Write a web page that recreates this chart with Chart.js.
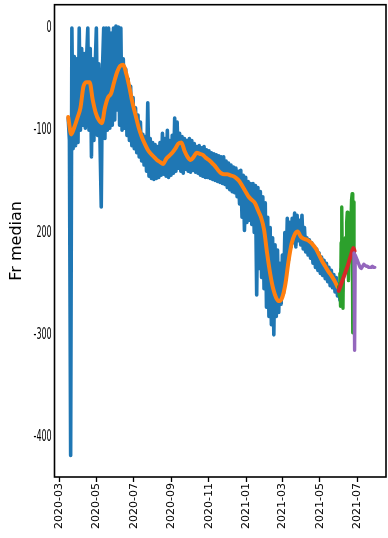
<!DOCTYPE html>
<html>
<head>
<meta charset="utf-8">
<script src="https://cdn.jsdelivr.net/npm/chart.js@4.4.1/dist/chart.umd.min.js"></script>
<style>
  html, body { margin: 0; padding: 0; background: #ffffff; }
  #c { display: block; }
</style>
</head>
<body>
<canvas id="c" width="388" height="538"></canvas>
<script>
// ---- axis ticks (day offsets counted from 2020-03-01) ----
const xTickDays = [0, 61, 122, 184, 245, 306, 365, 426, 487];
const xTickLabels = ['2020-03', '2020-05', '2020-07', '2020-09', '2020-11', '2021-01', '2021-03', '2021-05', '2021-07'];
const yTickValues = [0, -100, -200, -300, -400];
const yTickLabels = ['0', '-100', '200', '-300', '-400'];
const yAxisTitle = 'Fr median';

// ---- blue: daily raw values, sampled every 2 days from day 15 ----
const blueStartDay = 15;
const blueStepDays = 2;
const blueVals = [
  -88, -110, -418, 0, -118, -28, -115, -30, -112, 0,
  -100, -20, -95, -25, -98, -30, 0, -100, -20, -126,
  -30, -110, -40, 0, -105, -35, -112, -175, -40, 0,
  -108, 0, -100, 0, -98, -5, -95, 0, -90, 2,
  -80, 1, -95, 0, -100, -30, -98, -40, -105, -50,
  -110, -57, -115, -68, -118, -78, -122, -85, -126, -92,
  -130, -104, -134, -106, -140, -73, -145, -108, -147, -112,
  -148, -114, -147, -116, -146, -112, -144, -103, -143, -108,
  -145, -100, -146, -110, -144, -105, -142, -88, -140, -92,
  -137, -103, -140, -106, -142, -108, -138, -110, -140, -108,
  -141, -110, -139, -113, -141, -116, -142, -115, -144, -117,
  -145, -116, -146, -119, -146, -120, -147, -122, -148, -123,
  -149, -124, -150, -125, -151, -126, -152, -126, -153, -130,
  -156, -132, -158, -134, -160, -136, -161, -137, -165, -140,
  -172, -139, -185, -144, -198, -146, -190, -150, -188, -152,
  -192, -152, -200, -154, -261, -156, -235, -160, -244, -165,
  -255, -171, -273, -185, -282, -195, -290, -205, -300, -212,
  -282, -217, -278, -230, -270, -222, -259, -200, -240, -186,
  -227, -190, -214, -186, -210, -181, -214, -183, -208, -188,
  -212, -183, -216, -195, -219, -205, -222, -207, -225, -210,
  -230, -214, -234, -216, -237, -220, -240, -224, -242, -227,
  -245, -230, -248, -234, -252, -237, -254, -241, -258, -244,
  -262, -250, -266, -236, -258, -240
];

// ---- orange: smoothed values every 5 days from day 15 ----
const orangeStartDay = 15;
const orangeStepDays = 5;
const orangeVals = [
  -87, -104, -97, -88, -78, -57, -53, -53, -70, -83,
  -90, -93, -78, -68, -64, -53, -43, -37, -36, -45,
  -58, -73, -85, -97, -106, -113, -119, -123, -126, -129,
  -131, -133, -128, -125, -122, -118, -113, -112, -120, -126,
  -129, -126, -122, -123, -124, -127, -129, -132, -135, -139,
  -142, -143, -143, -144, -145, -147, -150, -155, -160, -165,
  -168, -171, -178, -185, -197, -220, -240, -255, -264, -267,
  -263, -250, -228, -211, -202, -199, -204, -206, -207, -209,
  -212, -216, -222, -228, -233, -238, -242, -247, -253
];

// ---- green: daily raw values from day 457 ----
const greenStartDay = 457;
const greenStepDays = 1;
const greenVals = [
  -253, -262, -240, -272, -210, -175, -230, -274, -215, -210,
  -240, -205, -225, -190, -180, -200, -247, -215, -205, -225,
  -190, -168, -162, -298, -170, -225
];

// ---- red: smoothed values ----
const redDays = [457, 460, 463, 466, 469, 472, 475, 478, 481, 483];
const redVals = [-257, -252, -247, -242, -237, -232, -226, -220, -215, -218];

// ---- purple: values ----
const purpleDays = [482, 483, 484, 486, 488, 490, 492, 494, 496, 498, 500, 502, 504, 506, 508, 510, 512, 514, 516];
const purpleVals = [-220, -315, -222, -225, -228, -231, -234, -235, -233, -231, -232, -233, -233, -234, -234, -234, -233, -234, -234];

function stepSeries(start, step, vals) {
  return vals.map((v, i) => ({ x: start + step * i, y: v }));
}
function pairSeries(days, vals) {
  return days.map((d, i) => ({ x: d, y: vals[i] }));
}

const frame = {
  id: 'frame',
  beforeDraw(chart) {
    const ctx = chart.ctx;
    ctx.save();
    ctx.fillStyle = '#ffffff';
    ctx.fillRect(0, 0, chart.width, chart.height);
    ctx.restore();
  },
  afterDraw(chart) {
    const a = chart.chartArea;
    const ctx = chart.ctx;
    ctx.save();
    ctx.strokeStyle = '#000000';
    ctx.lineWidth = 1.6;
    ctx.strokeRect(a.left, a.top, a.right - a.left, a.bottom - a.top);
    // narrow y tick labels, placed with the y scale
    const ys = chart.scales.y;
    ctx.fillStyle = '#000000';
    ctx.font = "16px 'DejaVu Sans', sans-serif";
    ctx.textAlign = 'right';
    ctx.textBaseline = 'middle';
    yTickValues.forEach((v, i) => {
      const py = ys.getPixelForValue(v);
      ctx.save();
      ctx.translate(a.left - 2.8, py);
      ctx.scale(0.5, 1);
      ctx.fillText(yTickLabels[i], 0, 0);
      ctx.restore();
    });
    ctx.restore();
  }
};

const lineDefaults = { pointRadius: 0, pointHoverRadius: 0, fill: false, spanGaps: true };

new Chart(document.getElementById('c'), {
  type: 'line',
  data: {
    datasets: [
      Object.assign({ data: stepSeries(blueStartDay, blueStepDays, blueVals), borderColor: '#1f77b4', borderWidth: 3.6, tension: 0, order: 5, borderJoinStyle: 'round', borderCapStyle: 'round' }, lineDefaults),
      Object.assign({ data: stepSeries(orangeStartDay, orangeStepDays, orangeVals), borderColor: '#ff7f0e', borderWidth: 4, cubicInterpolationMode: 'monotone', order: 4, borderCapStyle: 'round' }, lineDefaults),
      Object.assign({ data: stepSeries(greenStartDay, greenStepDays, greenVals), borderColor: '#2ca02c', borderWidth: 3.4, tension: 0, order: 3, borderJoinStyle: 'round', borderCapStyle: 'round' }, lineDefaults),
      Object.assign({ data: pairSeries(redDays, redVals), borderColor: '#d62728', borderWidth: 4, cubicInterpolationMode: 'monotone', order: 2, borderCapStyle: 'round' }, lineDefaults),
      Object.assign({ data: pairSeries(purpleDays, purpleVals), borderColor: '#9467bd', borderWidth: 3.4, tension: 0, order: 1, borderJoinStyle: 'round', borderCapStyle: 'round' }, lineDefaults)
    ]
  },
  options: {
    responsive: false,
    devicePixelRatio: 1,
    animation: false,
    events: [],
    layout: { padding: { top: 4.7, right: 2, left: 0, bottom: 0 } },
    plugins: { legend: { display: false }, tooltip: { enabled: false } },
    scales: {
      x: {
        type: 'linear',
        min: -7.4,
        max: 534.3,
        afterBuildTicks(scale) { scale.ticks = xTickDays.map(v => ({ value: v })); },
        afterFit(scale) { scale.height = 61; scale.paddingLeft = 0; scale.paddingRight = 0; },
        grid: { display: true, drawOnChartArea: false, drawTicks: true, tickLength: 5, tickColor: '#000000', tickWidth: 1.3 },
        border: { display: false },
        ticks: {
          autoSkip: false,
          maxRotation: 90,
          minRotation: 90,
          padding: 1,
          color: '#000000',
          font: { family: "'DejaVu Sans', sans-serif", size: 11 },
          callback: (v, i) => xTickLabels[i]
        }
      },
      y: {
        type: 'linear',
        min: -439,
        max: 22.8,
        afterBuildTicks(scale) { scale.ticks = yTickValues.map(v => ({ value: v })); },
        afterFit(scale) { scale.width = 54.5; scale.paddingTop = 0; scale.paddingBottom = 0; },
        grid: { display: false, drawTicks: false },
        border: { display: false },
        title: {
          display: true,
          text: yAxisTitle,
          color: '#000000',
          font: { family: "'DejaVu Sans', sans-serif", size: 16 },
          padding: { top: 7, bottom: 0 }
        },
        ticks: {
          display: false,
          callback: (v, i) => yTickLabels[i]
        }
      }
    }
  },
  plugins: [frame]
});
</script>
</body>
</html>
